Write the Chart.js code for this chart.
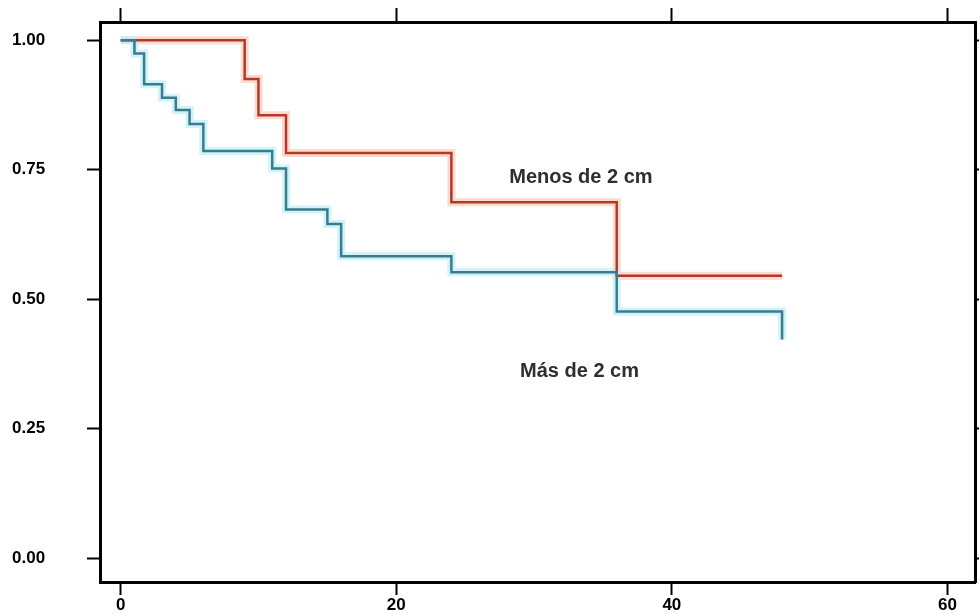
<!DOCTYPE html>
<html>
<head>
<meta charset="utf-8">
<script src="https://cdn.jsdelivr.net/npm/chart.js@4"></script>
<style>
  html, body { margin: 0; padding: 0; background: #fff; }
  #wrap { width: 979px; height: 614px; }
</style>
</head>
<body>
<div id="wrap"><canvas id="kmChart" width="979" height="614"></canvas></div>
<script>
// Kaplan-Meier curves
const redTimes = [0, 9, 10, 12, 24, 36, 48];
const redSurv = [1.0, 0.925, 0.855, 0.782, 0.687, 0.545, 0.545];

const blueTimes = [0, 1, 1.7, 3, 4, 5, 6, 11, 12, 15, 16, 24, 36, 48];
const blueSurv = [1.0, 0.974, 0.915, 0.889, 0.865, 0.838, 0.786, 0.752, 0.673, 0.645, 0.583, 0.552, 0.476, 0.422];

const xTicks = [0, 20, 40, 60];
const yTicks = [0, 0.25, 0.5, 0.75, 1];

const groupLabels = ["Menos de 2 cm", "Más de 2 cm"];

const toPoints = (xs, ys) => xs.map((x, i) => ({ x: x, y: ys[i] }));

// text labels next to the curves
const curveLabels = {
  id: "curveLabels",
  afterDatasetsDraw(chart) {
    const { ctx, scales } = chart;
    const spots = [
      { text: groupLabels[0], x: 33.4, y: 0.734 },
      { text: groupLabels[1], x: 33.3, y: 0.361 }
    ];
    ctx.save();
    ctx.font = "bold 20px 'Liberation Sans', Arial, sans-serif";
    ctx.fillStyle = "#2e2e2e";
    ctx.textAlign = "center";
    ctx.textBaseline = "middle";
    spots.forEach(s => {
      ctx.fillText(s.text, scales.x.getPixelForValue(s.x), scales.y.getPixelForValue(s.y));
    });
    ctx.restore();
  }
};

const tickFont = { family: "'Liberation Sans', Arial, sans-serif", size: 17, weight: "bold" };

function fixedTicks(list) {
  return scale => { scale.ticks = list.map(v => ({ value: v })); };
}

const ctx = document.getElementById("kmChart").getContext("2d");
new Chart(ctx, {
  type: "line",
  data: {
    datasets: [
      { data: toPoints(redTimes, redSurv), borderColor: "rgba(252,205,190,0.75)", borderWidth: 8, stepped: "before", pointRadius: 0, order: 4 },
      { data: toPoints(blueTimes, blueSurv), borderColor: "rgba(190,240,250,0.75)", borderWidth: 8, stepped: "before", pointRadius: 0, order: 3 },
      { label: groupLabels[0], data: toPoints(redTimes, redSurv), borderColor: "#b23a2c", borderWidth: 2.5, stepped: "before", pointRadius: 0, order: 2 },
      { label: groupLabels[1], data: toPoints(blueTimes, blueSurv), borderColor: "#3d7a8c", borderWidth: 2.5, stepped: "before", pointRadius: 0, order: 1 }
    ]
  },
  options: {
    responsive: false,
    animation: false,
    layout: { padding: { left: 12, top: 0, right: 0, bottom: 0 } },
    plugins: { legend: { display: false }, tooltip: { enabled: false } },
    scales: {
      x: {
        type: "linear", position: "bottom",
        min: -1.5, max: 62,
        afterBuildTicks: fixedTicks(xTicks),
        afterFit: s => { s.height = 32; },
        border: { color: "#000", width: 3 },
        grid: { drawOnChartArea: false, tickLength: 13, tickWidth: 2, tickColor: "#000" },
        ticks: { color: "#000", font: tickFont, padding: 0 }
      },
      xTop: {
        type: "linear", position: "top",
        min: -1.5, max: 62,
        afterBuildTicks: fixedTicks(xTicks),
        afterFit: s => { s.height = 22; },
        border: { color: "#000", width: 3 },
        grid: { drawOnChartArea: false, tickLength: 14, tickWidth: 2, tickColor: "#000" },
        ticks: { display: false }
      },
      y: {
        type: "linear", position: "left",
        min: -0.046, max: 1.035,
        afterBuildTicks: fixedTicks(yTicks),
        afterFit: s => { s.width = 88; },
        border: { color: "#000", width: 3 },
        grid: { drawOnChartArea: false, tickLength: 13, tickWidth: 2, tickColor: "#000" },
        ticks: { color: "#000", font: tickFont, padding: 2, crossAlign: "far", callback: v => v.toFixed(2) }
      },
      yRight: {
        type: "linear", position: "right",
        min: -0.046, max: 1.035,
        afterBuildTicks: fixedTicks(yTicks),
        afterFit: s => { s.width = 4; },
        border: { color: "#000", width: 3 },
        grid: { drawOnChartArea: false, tickLength: 4, tickWidth: 2, tickColor: "#000" },
        ticks: { display: false }
      }
    }
  },
  plugins: [curveLabels]
});
</script>
</body>
</html>
